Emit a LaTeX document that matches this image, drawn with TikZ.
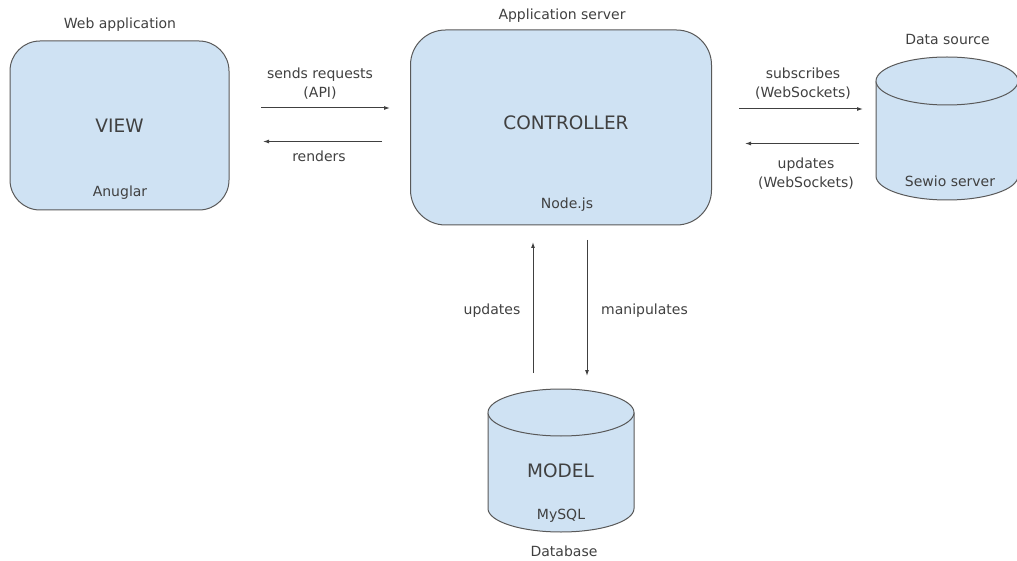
\documentclass[tikz,border=0pt]{standalone}
\usepackage{fontspec}
\setmainfont{DejaVu Sans}
\usetikzlibrary{arrows.meta}

\definecolor{boxblue}{HTML}{CFE2F3}
\definecolor{edgegray}{HTML}{595959}
\definecolor{inkgray}{HTML}{404040}

\tikzset{
	part/.style={draw=edgegray, fill=boxblue, line width=1pt},
	spot/.style={inner sep=0pt},
	lbl/.style={text=inkgray, font=\fontsize{14}{19}\selectfont, anchor=base, align=center, inner sep=0pt},
	big/.style={lbl, font=\fontsize{18.5}{22}\selectfont},
	flow/.style={draw=inkgray, line width=1pt, -{Latex[length=6pt,width=4pt]}}
}

\begin{document}
\begin{tikzpicture}[x=1pt,y=-1pt]
	\useasboundingbox (0,0) rectangle (1017,561);

	% web application
	\node[part, rounded corners=30pt, minimum width=219pt, minimum height=169pt] (view) at (119.5,125.5) {};
	\node[lbl] (viewtitle) at (120,29) {Web application};
	\node[big] (viewname) at (119.5,132.7) {VIEW};
	\node[lbl] (viewtech) at (120,197) {Anuglar};

	% application server
	\node[part, rounded corners=35pt, minimum width=301pt, minimum height=195pt] (ctrl) at (561,127.5) {};
	\node[lbl] (ctrltitle) at (562,20) {Application server};
	\node[big] (ctrlname) at (566,130) {CONTROLLER};
	\node[lbl] (ctrltech) at (567,209) {Node.js};

	% data source
	\node[spot, minimum width=142pt, minimum height=143pt] (source) at (947,128.5) {};
	\filldraw[part] (876,81) -- (876,176) arc[start angle=180, end angle=360, x radius=71pt, y radius=24pt] -- (1018,81);
	\filldraw[part] (947,81) ellipse[x radius=71pt, y radius=24pt];
	\node[lbl] (sourcetitle) at (947.5,45) {Data source};
	\node[lbl] (sourcetech) at (950,186.7) {Sewio server};

	% database
	\node[spot, minimum width=146pt, minimum height=143pt] (model) at (561,460.5) {};
	\filldraw[part] (488,412.5) -- (488,508.5) arc[start angle=180, end angle=360, x radius=73pt, y radius=23.5pt] -- (634,412.5);
	\filldraw[part] (561,412.5) ellipse[x radius=73pt, y radius=23.5pt];
	\node[big] (modelname) at (560.5,477.3) {MODEL};
	\node[lbl] (modeltech) at (561,519.3) {MySQL};
	\node[lbl] (modeltitle) at (564,556) {Database};

	% arrow ends
	\coordinate (req-a) at (261,108);
	\coordinate (req-b) at (390,108);
	\coordinate (ren-a) at (382,141.5);
	\coordinate (ren-b) at (263,141.5);
	\coordinate (sub-a) at (739,109);
	\coordinate (sub-b) at (863,109);
	\coordinate (upd-a) at (859,143.5);
	\coordinate (upd-b) at (745,143.5);
	\coordinate (dbu-a) at (533,373);
	\coordinate (dbu-b) at (533,242);
	\coordinate (man-a) at (587,240);
	\coordinate (man-b) at (587,376);

	% arrows
	\draw[flow] (req-a) -- (req-b);
	\draw[flow] (ren-a) -- (ren-b);
	\draw[flow] (sub-a) -- (sub-b);
	\draw[flow] (upd-a) -- (upd-b);
	\draw[flow] (dbu-a) -- (dbu-b);
	\draw[flow] (man-a) -- (man-b);

	% arrow labels
	\node[lbl] (reqtext) at (320,97.3) {sends requests\\(API)};
	\node[lbl] (rentext) at (319,161.7) {renders};
	\node[lbl] (subtext) at (803,97.3) {subscribes\\(WebSockets)};
	\node[lbl] (updtext) at (806,187.7) {updates\\(WebSockets)};
	\node[lbl] (dbutext) at (492,315) {updates};
	\node[lbl] (mantext) at (644.5,315) {manipulates};

\end{tikzpicture}
\end{document}
